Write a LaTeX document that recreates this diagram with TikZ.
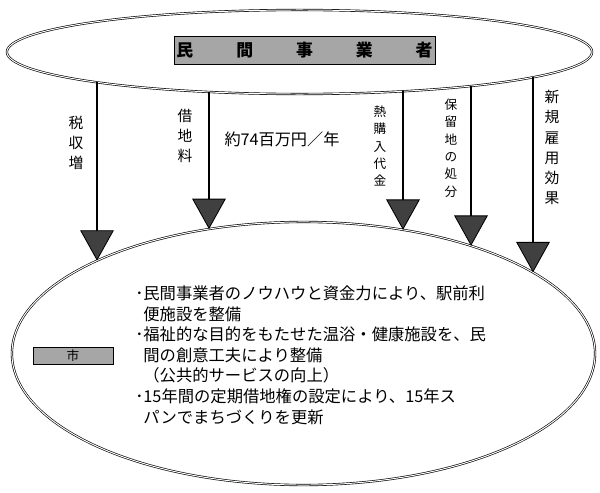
\documentclass[tikz,border=0pt]{standalone}
\usepackage{fontspec}
\setmainfont{Noto Sans CJK JP}
\usetikzlibrary{shapes.geometric, arrows.meta, positioning}

\tikzset{
	rand/.style={ellipse, draw, double, double distance=0.7pt, line width=0.45pt, inner sep=0pt, outer sep=0pt},
	grau/.style={draw, fill=black!35, line width=0.6pt, inner sep=0pt},
	pfeil/.style={line width=2pt, -{Triangle[width=8.4mm, length=7.6mm, line width=0.6pt, fill=black!75]}},
	senkrecht/.style={align=center, inner sep=0pt, font=\fontsize{10.5}{14.3}\selectfont},
	klein/.style={align=center, inner sep=0pt, font=\fontsize{9}{12.4}\selectfont},
}

\begin{document}
\begin{tikzpicture}[x=0.025cm, y=-0.025cm]
	\useasboundingbox (0,0) rectangle (600,493);
	
	% Ellipsen
	\node[rand, minimum width=14.625cm, minimum height=2.1cm] (betreiber) at (299.5,52) {};
	\node[rand, minimum width=14.575cm, minimum height=6.575cm] (stadt) at (303.5,353.5) {};
	
	% Kaesten
	\node[grau, minimum width=6.525cm, minimum height=0.7cm] (betreiberbox) at (304.5,50)
		{\fontsize{12}{12}\selectfont\bfseries\makebox[6.4cm]{民\hfill 間\hfill 事\hfill 業\hfill 者}};
	\node[grau, minimum width=2cm, minimum height=0.425cm] (stadtbox) at (73,355.5)
		{\fontsize{9}{9}\selectfont 市};
	
	% Pfeile (Anfang auf oberer, Spitze auf unterer Ellipse)
	\coordinate (o1) at (97,82.3);   \coordinate (u1) at (97,260.7);
	\coordinate (o2) at (209,91.9);  \coordinate (u2) at (209,229.1);
	\coordinate (o3) at (403,91.3);  \coordinate (u3) at (403,229.9);
	\coordinate (o4) at (471,86);    \coordinate (u4) at (471,245.9);
	\coordinate (o5) at (533,77.3);  \coordinate (u5) at (533,272.4);
	\draw[pfeil] (o1) -- (u1);
	\draw[pfeil] (o2) -- (u2);
	\draw[pfeil] (o3) -- (u3);
	\draw[pfeil] (o4) -- (u4);
	\draw[pfeil] (o5) -- (u5);
	
	% Beschriftungen
	\node[senkrecht] (steuer) at (76,143) {税\\収\\増};
	\node[senkrecht] (pacht) at (185,136) {借\\地\\料};
	\node[inner sep=0pt, font=\fontsize{11.5}{11.5}\selectfont] (betrag) at (282,139) {約74百万円／年};
	\node[klein] (waerme) at (380,146) {熱\\購\\入\\代\\金};
	\node[klein] (reserve) at (451,148) {保\\留\\地\\の\\処\\分};
	\node[senkrecht] (arbeit) at (552,147.5) {新\\規\\雇\\用\\効\\果};
	
	% Text unten
	\node[anchor=west, align=left, inner sep=0pt, font=\fontsize{11.6}{14.65}\selectfont] (ziele) at (135,355)
		{･民間事業者のノウハウと資金力により、駅前利\\
		\phantom{･}便施設を整備\\
		･福祉的な目的をもたせた温浴・健康施設を、民\\
		\phantom{･}間の創意工夫により整備\\
		\phantom{･}（公共的サービスの向上）\\
		･15年間の定期借地権の設定により、15年ス\\
		\phantom{･}パンでまちづくりを更新};
\end{tikzpicture}
\end{document}
